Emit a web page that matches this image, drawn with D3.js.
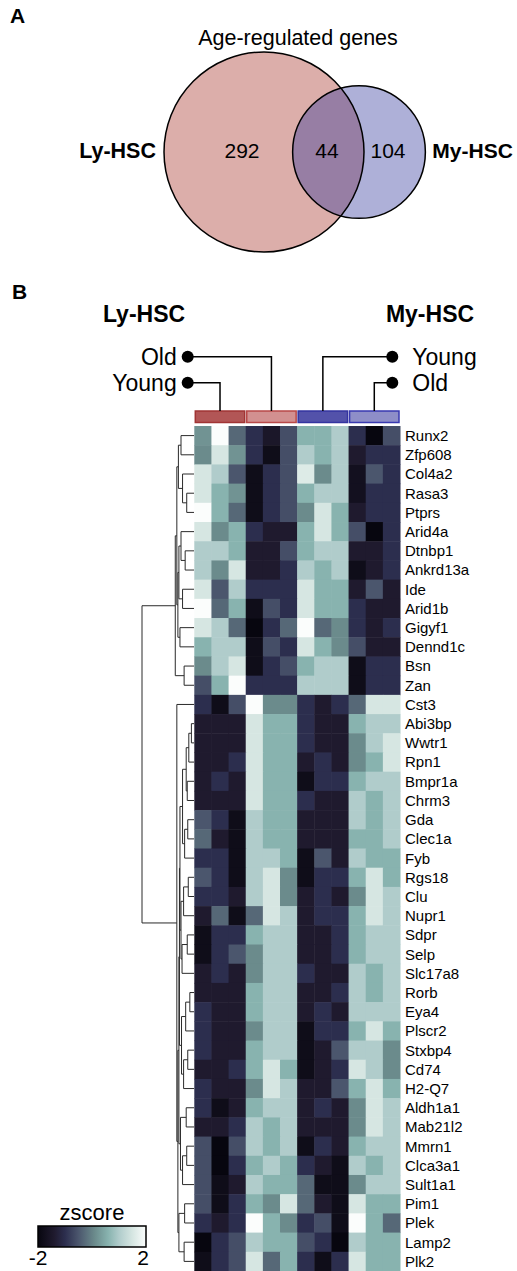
<!DOCTYPE html>
<html><head><meta charset="utf-8">
<script src="https://cdn.jsdelivr.net/npm/d3@7"></script>
<style>body{margin:0;background:#fff}svg{display:block;font-family:"Liberation Sans",Arial,Helvetica,sans-serif}</style>
</head><body>
<svg id="c" width="517" height="1271"></svg>
<script>
// ---------- DATA ----------
const vennSets = ["Ly-HSC", "My-HSC"];
const vennCounts = [292, 44, 104]; // Ly only, both, My only
const vennTitle = "Age-regulated genes";

const groups = ["Ly-HSC Young", "Ly-HSC Old", "My-HSC Young", "My-HSC Old"];
const groupFill = ["#b25656", "#d29090", "#5352aa", "#8e8ec8"];
const groupStroke = ["#a03434", "#b84848", "#3434a0", "#3838b0"];
const samplesPerGroup = 3;

const genes = ["Runx2","Zfp608","Col4a2","Rasa3","Ptprs","Arid4a","Dtnbp1","Ankrd13a","Ide","Arid1b","Gigyf1","Dennd1c","Bsn","Zan",
"Cst3","Abi3bp","Wwtr1","Rpn1","Bmpr1a","Chrm3","Gda","Clec1a","Fyb","Rgs18","Clu","Nupr1","Sdpr","Selp","Slc17a8","Rorb","Eya4",
"Plscr2","Stxbp4","Cd74","H2-Q7","Aldh1a1","Mab21l2","Mmrn1","Clca3a1","Sult1a1","Pim1","Plek","Lamp2","Plk2"];

const zscores = [
[0.2,2,-0.3,-1,-1.5,-0.6,0.6,0.6,1,-1,-2,-0.6],
[0.1,1.5,0.2,-1,-1.8,-0.6,1,0.6,1,-1.4,-1,-1],
[1.5,1,-0.5,-1.8,-1,-0.6,1.6,0.1,1,-1.7,-0.5,-1],
[1.5,0.6,0.2,-1.8,-1,-0.6,0.6,1,1,-1.7,-1,-1],
[2,0.6,-0.3,-1.8,-1,-0.6,0.1,1.5,0.6,-1.4,-1,-1],
[1.5,0.1,0.6,-1,-1.4,-1.4,0.6,1.5,0.6,-0.6,-2,-1],
[1,1,0.6,-1.4,-1.4,-0.6,0.6,1,1,-1.4,-1.4,-1],
[1,0.1,1.5,-1.4,-1.4,-1,1,0.6,1,-1.8,-1.4,-1],
[1.5,-0.5,1,-1,-1,-1,1.5,0.6,0.6,-1.4,-0.5,-1.4],
[2,-0.3,0.6,-1.8,-0.6,-1,1.5,0.6,0.6,-1,-1.4,-1.4],
[1.5,1,-0.3,-2,-1,-0.3,2,-0.3,0.1,-1,-1.4,-1],
[0.6,1,1,-1.8,-0.6,-1,1.5,0.6,0.1,-0.6,-1.4,-1.4],
[0.1,1,1.5,-1.8,-1,-0.6,0.6,1,1,-1.8,-1,-1],
[-0.6,0.6,2,-1,-1,-1,1,1,1,-1.8,-1,-1],
[-1,-1.8,-0.6,2,0.1,0.1,-1,-1.4,-1,-0.3,1.5,1.5],
[-1.4,-1.4,-1.4,1.5,0.6,0.6,-1,-1.4,-1.4,0.6,1,1],
[-1.4,-1.4,-1.4,1.5,0.6,0.6,-1,-1.4,-1.4,0.1,1,1.5],
[-1.4,-1.4,-1,1.5,0.6,0.6,-1.4,-1,-1.4,0.1,0.6,1.5],
[-1.4,-1,-1.4,1.5,0.6,0.6,-1.8,-1,-1,0.6,1,1],
[-1.4,-1.4,-1.4,1.5,0.6,0.6,-1,-1.4,-1.4,1,0.6,1],
[-0.5,-1,-1.8,1,0.6,0.6,-1.4,-1.4,-1.4,1,0.6,1],
[-0.3,-1.4,-1.8,1,0.6,0.6,-1.4,-1.4,-1.4,0.6,0.6,1],
[-1,-1,-1.8,1,1,0.6,-1.8,-0.5,-1.4,1,0.6,0.6],
[-0.5,-1,-1.8,1,1.5,0.1,-1.8,-1,-1,0.6,1.5,0.6],
[-1,-1,-1.4,1,1.5,0.1,-1.4,-1,-1.4,0.1,1.5,1],
[-1.4,-0.3,-1.8,-0.3,1.5,1,-1.4,-1,-1,0.6,1.5,1],
[-1.8,-1,-1,0.6,1,1,-1.4,-1.4,-1,0.6,1,1],
[-1.8,-1,-0.5,0.1,1,1,-1.4,-1.4,-1,0.6,1,1],
[-1.4,-1,-1.4,0.1,1,1,-1,-1.4,-1.4,1,0.6,1],
[-1.4,-1.4,-1.4,0.6,1,1,-1.4,-1.4,-1,1,0.6,1],
[-1,-1.4,-1.4,0.6,1,1,-1.4,-1,-1.4,1,1,1],
[-1,-1.4,-1.4,0.1,1,1,-1.8,-1,-1,0.6,1.5,0.6],
[-1,-1.4,-1.4,0.6,1,1,-1.8,-1.4,-0.5,1,1,0.1],
[-1.4,-1.4,-1,0.6,1.5,0.6,-1.8,-1.4,-1,1.5,1,0.1],
[-1,-1.4,-1.4,0.1,1.5,1,-1.4,-1.4,-0.5,0.6,1.5,0.6],
[-1,-1.8,-1.4,0.6,1,1,-1.4,-1,-1.4,0.1,1.5,1],
[-1.4,-1.4,-1,1,0.6,1,-1.4,-1.4,-1.4,0.1,1.5,1],
[-0.6,-2,-0.6,1,0.6,1,-1.8,-1,-1.4,0.6,1,1],
[-0.6,-2,-1,0.6,1,0.6,-1,-1.4,-1.8,1,0.6,1],
[-0.6,-1.8,-1.4,1,0.6,0.6,-0.3,-1.8,-1.8,0.1,1,1],
[-0.6,-1.8,-1,0.6,0.1,1.5,-0.3,-1.4,-1.8,1.5,0.6,0.6],
[-1,-1.4,-1,2,0.6,0.1,-1,-0.6,-1.8,2,0.6,-0.3],
[-2,-1,-0.6,1,0.6,0.6,-0.6,-1,-2,1,0.6,0.6],
[-1.8,-1,-0.6,1.5,-0.3,0.6,-1,-1.8,-1,1.5,0.6,0.6]
];

// dendrogram: [height, left, right]; leaves are row indices
const treeTop = [3.6,
  [3.3, [3.0, [2.5,0,1], [2.2,2,[1.4,3,4]]],
        [3.1, [2.9, [2.5,5,[1.7,6,7]], [2.2,8,9]], [2.7,10,11]]],
  [1.9,12,13]];
const treeBottom = [3.3, 14,
  [3.1,
    [2.9,
      [2.8,
        [2.7,
          [2.2, [1.5, [1.0,[0.5,15,16],17], [1.3,18,19]], [1.8,[1.2,20,21],22]],
          [2.5, [2.0,[1.1,23,24],25], [2.3,[1.3,26,27],28]]],
        [2.4, [1.6,[0.8,29,30],31], [2.0,[1.2,32,33],34]]],
      [2.6, [1.5,35,36], [2.2,[1.4,37,38],39]]],
    [2.9, [1.8,40,41], [1.9,42,43]]]];
const tree = [10, treeTop, treeBottom];

const legendTitle = "zscore";
const legendTicks = [-2, 2];
const colorStops = [-2, -1.4, -1, -0.5, 0.1, 0.6, 1, 1.5, 2];
const colorRange = ["#07060f", "#1f1a2e", "#2c2e4e", "#4b566d", "#6b8b8c", "#88b3af", "#b0cccb", "#d6e6e2", "#fbfdfc"];

// ---------- DRAW ----------
const svg = d3.select("#c");
const color = d3.scaleLinear().domain(colorStops).range(colorRange).clamp(true);

// Panel labels
svg.append("text").attr("x", 10).attr("y", 23).attr("font-size", 21).attr("font-weight", "bold").text("A");
svg.append("text").attr("x", 12).attr("y", 299).attr("font-size", 21).attr("font-weight", "bold").text("B");

// ---- Venn ----
const totals = [vennCounts[0] + vennCounts[1], vennCounts[2] + vennCounts[1]];
const rScale = d3.scaleSqrt().domain([0, d3.max(totals)]).range([0, 100]);
const vy = 152;
const cx = [264, 359];
const rs = totals.map(rScale);
const vg = svg.append("g");
const defs = svg.append("defs");
defs.append("clipPath").attr("id", "clipLy").append("circle").attr("cx", cx[0]).attr("cy", vy).attr("r", rs[0]);
vg.append("circle").attr("cx", cx[0]).attr("cy", vy).attr("r", rs[0]).attr("fill", "#dcaeaa");
vg.append("circle").attr("cx", cx[1]).attr("cy", vy).attr("r", rs[1]).attr("fill", "#aeb0d8");
vg.append("circle").attr("cx", cx[1]).attr("cy", vy).attr("r", rs[1]).attr("fill", "#977ea4").attr("clip-path", "url(#clipLy)");
vg.selectAll("circle.o").data(rs).join("circle").attr("class", "o")
  .attr("cx", (d, i) => cx[i]).attr("cy", vy).attr("r", d => d)
  .attr("fill", "none").attr("stroke", "#000").attr("stroke-width", 1.5);
vg.append("text").attr("x", 298).attr("y", 45).attr("text-anchor", "middle").attr("font-size", 21.5).text(vennTitle);
vg.append("text").attr("x", cx[0] - rs[0] - 8).attr("y", 158).attr("text-anchor", "end").attr("font-size", 21.5).attr("font-weight", "bold").text(vennSets[0]);
vg.append("text").attr("x", cx[1] + rs[1] + 7).attr("y", 158).attr("text-anchor", "start").attr("font-size", 21).attr("font-weight", "bold").text(vennSets[1]);
const numX = [242, 327, 388];
vg.selectAll("text.n").data(vennCounts).join("text").attr("class", "n")
  .attr("x", (d, i) => numX[i]).attr("y", 158).attr("text-anchor", "middle").attr("font-size", 21).text(d => d);

// ---- Heatmap ----
const nCols = groups.length * samplesPerGroup;
const x = d3.scaleBand().domain(d3.range(nCols)).range([194.3, 400]);
const y = d3.scaleBand().domain(genes).range([426, 1271]);

const cells = [];
zscores.forEach((row, r) => row.forEach((v, c) => cells.push({ r, c, v })));
svg.append("g").selectAll("rect").data(cells).join("rect")
  .attr("x", d => x(d.c)).attr("y", d => y(genes[d.r]))
  .attr("width", x.bandwidth() + 0.5).attr("height", y.bandwidth() + 0.5)
  .attr("fill", d => color(d.v));

// row labels
svg.append("g").selectAll("text").data(genes).join("text")
  .attr("x", 405).attr("y", d => y(d) + y.bandwidth() / 2).attr("dy", "0.36em")
  .attr("font-size", 15).text(d => d);

// group annotation bars
const gX = (g, end) => x(g * samplesPerGroup + (end ? samplesPerGroup - 1 : 0)) + (end ? x.bandwidth() : 0);
svg.append("g").selectAll("rect").data(groups).join("rect")
  .attr("x", (d, i) => gX(i, 0) + 1).attr("y", 411)
  .attr("width", (d, i) => gX(i, 1) - gX(i, 0) - 2).attr("height", 11.5)
  .attr("fill", (d, i) => groupFill[i]).attr("stroke", (d, i) => groupStroke[i]).attr("stroke-width", 1.5);

// headers
svg.append("text").attr("x", 144).attr("y", 322).attr("text-anchor", "middle").attr("font-size", 23).attr("font-weight", "bold").text("Ly-HSC");
svg.append("text").attr("x", 430).attr("y", 322).attr("text-anchor", "middle").attr("font-size", 23).attr("font-weight", "bold").text("My-HSC");

// group callouts
const callouts = [
  { g: 1, label: "Old", dotX: 187.7, yy: 356.7, side: "left" },
  { g: 0, label: "Young", dotX: 187.7, yy: 382.7, side: "left" },
  { g: 2, label: "Young", dotX: 392.3, yy: 356.7, side: "right" },
  { g: 3, label: "Old", dotX: 392.3, yy: 382.7, side: "right" }
];
const cg = svg.append("g");
callouts.forEach(c => {
  const mx = (gX(c.g, 0) + gX(c.g, 1)) / 2;
  cg.append("path").attr("d", `M${c.dotX},${c.yy}H${mx}V411`).attr("fill", "none").attr("stroke", "#000").attr("stroke-width", 1.5);
  cg.append("circle").attr("cx", c.dotX).attr("cy", c.yy).attr("r", 6).attr("fill", "#000");
  cg.append("text").attr("x", c.side === "left" ? c.dotX - 11 : c.dotX + 20).attr("y", c.yy).attr("dy", "0.36em")
    .attr("text-anchor", c.side === "left" ? "end" : "start").attr("font-size", 23).text(c.label);
});

// dendrogram
const hx = d3.scaleLinear().domain([0, 10]).range([194, 142]);
const dg = svg.append("g").attr("fill", "none").attr("stroke", "#2a2a2a").attr("stroke-width", 1);
function drawNode(n) {
  if (typeof n === "number") return { x: hx(0), y: y(genes[n]) + y.bandwidth() / 2 };
  const a = drawNode(n[1]), b = drawNode(n[2]);
  const nx = hx(n[0]);
  dg.append("path").attr("d", `M${a.x},${a.y}H${nx}V${b.y}H${b.x}`);
  return { x: nx, y: (a.y + b.y) / 2 };
}
drawNode(tree);

// legend
const lx0 = 38, lx1 = 146, ly0 = 1226, lh = 21;
const lgScale = d3.scaleLinear().domain(legendTicks).range([lx0, lx1]);
const grad = defs.append("linearGradient").attr("id", "lg");
grad.selectAll("stop").data(colorStops).join("stop")
  .attr("offset", d => (d - legendTicks[0]) / (legendTicks[1] - legendTicks[0]))
  .attr("stop-color", d => color(d));
svg.append("rect").attr("x", lx0).attr("y", ly0).attr("width", lx1 - lx0).attr("height", lh)
  .attr("fill", "url(#lg)").attr("stroke", "#000").attr("stroke-width", 1.5);
svg.append("text").attr("x", (lx0 + lx1) / 2).attr("y", 1220).attr("text-anchor", "middle").attr("font-size", 22).text(legendTitle);
svg.append("g").selectAll("text").data(legendTicks).join("text")
  .attr("x", d => lgScale(d) + (d < 0 ? 0 : -3)).attr("y", 1265).attr("text-anchor", "middle").attr("font-size", 21)
  .text(d => d < 0 ? "-" + Math.abs(d) : d);
</script>
</body></html>
